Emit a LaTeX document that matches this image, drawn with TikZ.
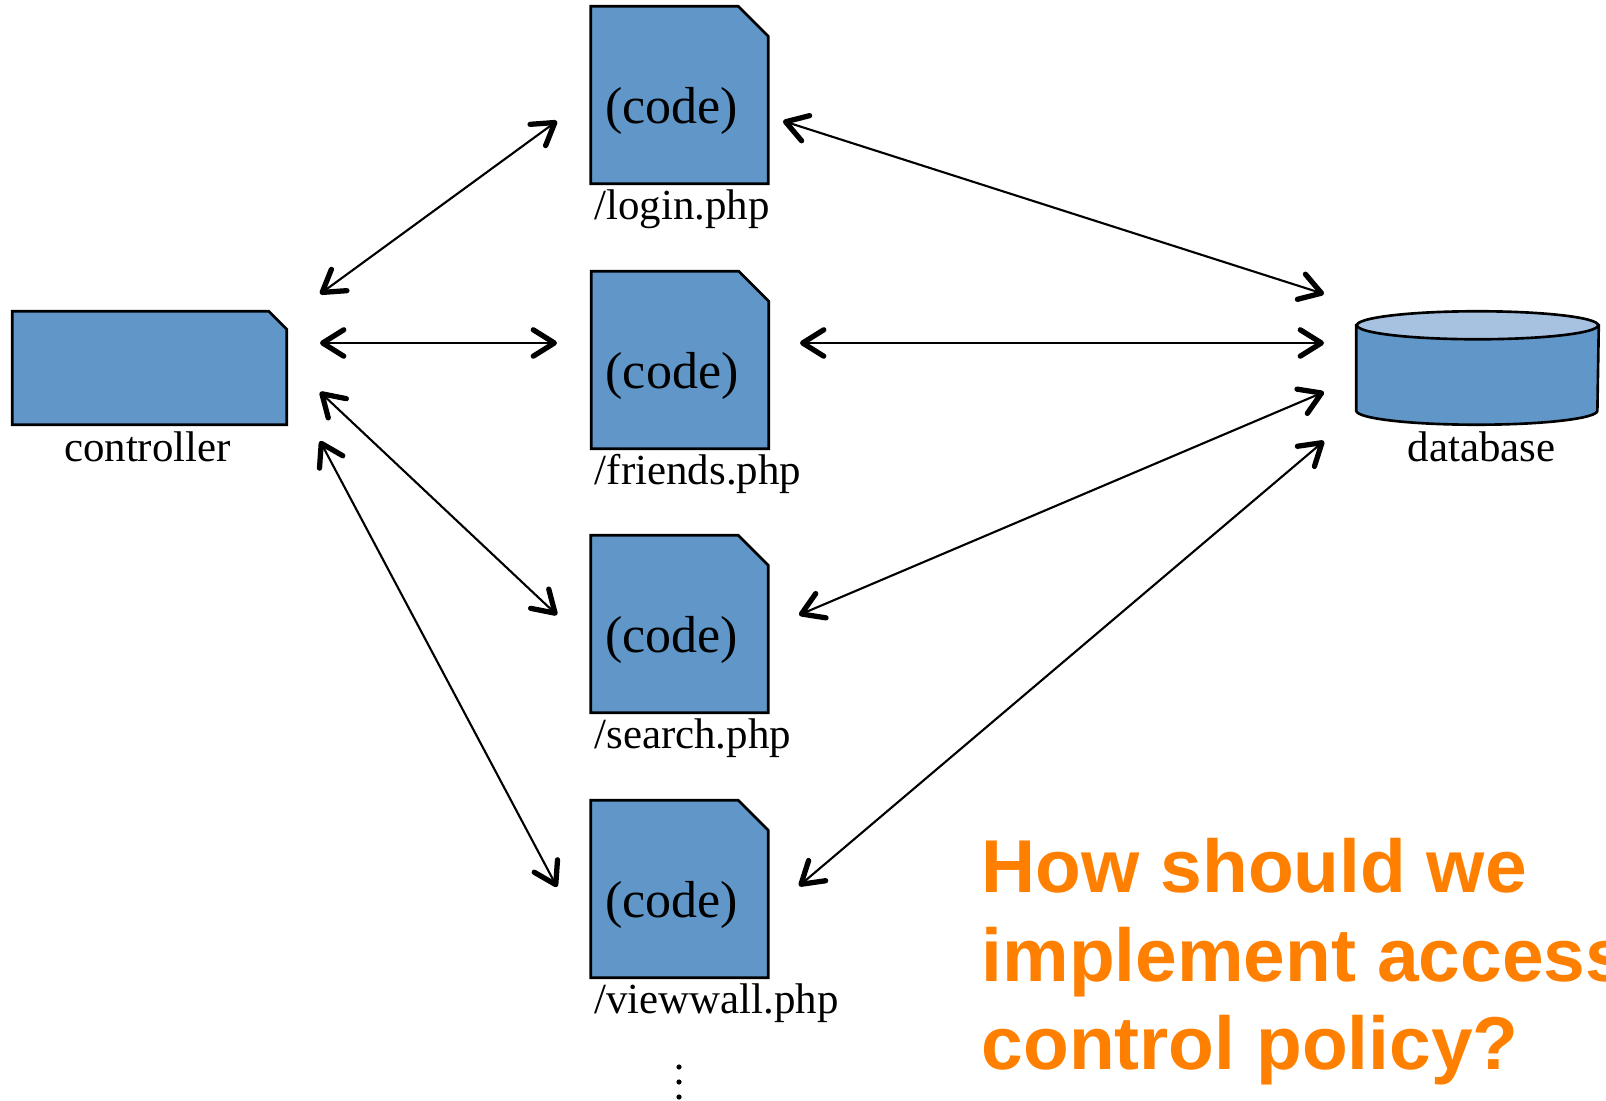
\documentclass[tikz,border=0pt]{standalone}
\usepackage{fontspec}
\setmainfont{Liberation Serif}
\newfontfamily\askfont{Liberation Sans}
\usetikzlibrary{arrows.meta,backgrounds,calc}
\definecolor{pageblue}{HTML}{6097C8}
\definecolor{lidblue}{HTML}{A7C1E1}
\definecolor{askorange}{HTML}{FF8000}

\tikzset{
  page/.style={rectangle, minimum width=1.76cm, minimum height=1.76cm, inner sep=0pt,
    font=\fontsize{14.8}{17}\selectfont, text height=19pt, text depth=3pt},
  outline/.style={draw, line width=0.75pt, fill=pageblue, line join=miter},
  lbl/.style={inner sep=0pt, font=\fontsize{12.2}{14}\selectfont},
  barb/.tip={Straight Barb[length=6pt, width=7.5pt, line width=0.9pt 1, round]},
  link/.style={barb-barb, line width=0.6pt},
}

\begin{document}
\begin{tikzpicture}[x=0.01cm, y=-0.01cm]
  \useasboundingbox (0,0) rectangle (1606,1101);

  % controller and database
  \node[rectangle, minimum width=2.73cm, minimum height=1.12cm, inner sep=0pt]
        (ctl) at (149.5,368) {};
  \node[lbl, anchor=base] (ctllbl) at ($(ctl.south)+(-2,37)$) {controller};

  \node[rectangle, minimum width=2.41cm, minimum height=1.12cm, inner sep=0pt]
        (db) at (1477.5,368) {};
  \node[lbl, anchor=base] (dblbl) at ($(db.south)+(4,37)$) {database};

  % the php pages
  \node[page] (login)    at (679.5,95)  {(code)\kern4.5pt};
  \node[page] (friends)  at (680,360)   {(code)\kern4.5pt};
  \node[page] (search)   at (679.5,624) {(code)\kern4.5pt};
  \node[page] (viewwall) at (679.5,889) {(code)\kern4.5pt};
  \foreach \p in {login,friends,search,viewwall}
    \node[lbl, anchor=base west] (\p lbl) at ($(\p.south west)+(3,36)$) {/\p.php};

  % shapes go behind the texts
  \begin{scope}[on background layer]
    \foreach \p in {login,friends,search,viewwall}
      \path[outline] (\p.south west) -- (\p.north west)
        -- ([xshift=-0.3cm]\p.north east) -- ([yshift=-0.3cm]\p.north east)
        -- (\p.south east) -- cycle;
    \path[outline] (ctl.south west) -- (ctl.north west)
      -- ([xshift=-0.18cm]ctl.north east) -- ([yshift=-0.18cm]ctl.north east)
      -- (ctl.south east) -- cycle;
    % cylinder
    \path[outline] ([yshift=-0.14cm]db.north west) -- ([yshift=0.14cm]db.south west)
      arc[start angle=180, end angle=360, x radius=1.205cm, y radius=0.14cm]
      -- ([yshift=-0.14cm]db.north east) -- cycle;
    \path[outline, fill=lidblue] ([yshift=-0.14cm]db.north)
      ellipse[x radius=1.205cm, y radius=0.14cm];
  \end{scope}

  % arrow ends
  \foreach \i/\y in {1/294,2/343,3/392,4/441} {
    \coordinate (c\i) at (320,\y);
    \coordinate (d\i) at (1324,\y);
  }
  \coordinate (loginW) at (557,121);
  \coordinate (loginE) at (783,121);
  \coordinate (friendsW) at (557,343);
  \coordinate (friendsE) at (800,343);
  \coordinate (searchW) at (557,615);
  \coordinate (searchE) at (799,615);
  \coordinate (viewwallW) at (557,887);
  \coordinate (viewwallE) at (799,886);

  \draw[link] (c1) -- (loginW);
  \draw[link] (c2) -- (friendsW);
  \draw[link] (c3) -- (searchW);
  \draw[link] (c4) -- (viewwallW);
  \draw[link] (loginE) -- (d1);
  \draw[link] (friendsE) -- (d2);
  \draw[link] (searchE) -- (d3);
  \draw[link] (viewwallE) -- (d4);

  % more pages below
  \foreach \k in {0,1,2}
    \fill (679,1067+15*\k) circle (2.6);

  \node[anchor=base west, inner sep=0pt, align=left, text=askorange,
        font=\askfont\bfseries\fontsize{21.3}{25.2}\selectfont]
        (ask) at (981,1070) {How should we\\implement access\\control policy?};
\end{tikzpicture}
\end{document}
